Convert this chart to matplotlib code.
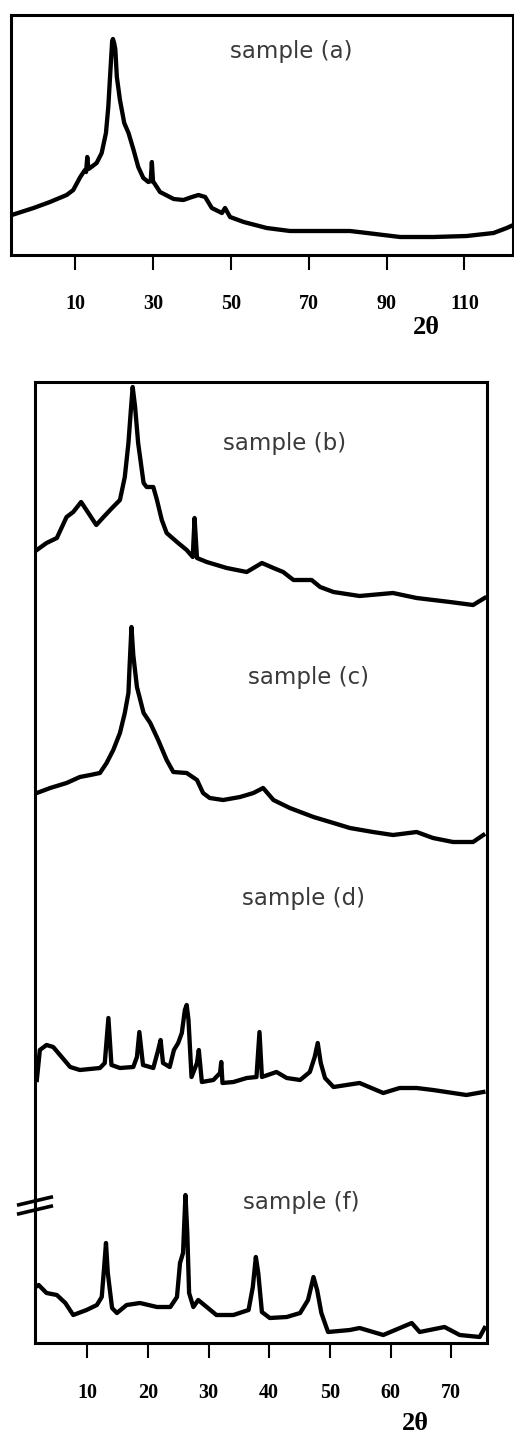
import numpy as np
import matplotlib.pyplot as plt
from matplotlib.lines import Line2D

# ---------------------------------------------------------------------------
# Data (2-theta in degrees, intensity a.u.)
# ---------------------------------------------------------------------------

# sample (a) -- upper panel
tt_a = [-6.3, -0.7, 3.5, 7.8, 9.5, 11.3, 12.5, 12.8, 13.1, 13.4, 13.8, 15.5,
        16.8, 17.9, 18.5, 19.1, 19.5, 19.7, 20.0, 20.3, 20.7, 21.5, 22.6,
        23.7, 25.0, 26.2, 27.5, 28.8, 29.4, 29.7, 30.0, 30.3, 31.8, 35.3,
        37.8, 40.0, 41.7, 43.4, 45.1, 47.7, 48.5, 49.8, 53.3, 59.2, 65.2,
        72.1, 80.6, 85.0, 89.2, 93.5, 102.1, 110.6, 117.5, 120.9, 122.6]
int_a = [40, 47, 53, 60, 65, 78, 85, 83, 98, 86, 87, 92,
         102, 122, 148, 188, 214, 216, 212, 206, 178, 155, 132,
         122, 105, 88, 77, 73, 74, 93, 73, 72, 63, 56,
         55, 58, 60, 58, 47, 42, 47, 38, 33, 27, 24,
         24, 24, 22, 20, 18, 18, 19, 22, 27, 30]

# sample (b)
tt_b = [1.7, 3.3, 5.0, 6.6, 7.7, 9.0, 10.2, 11.5, 12.7, 14.1, 15.4, 16.2,
        16.8, 17.2, 17.5, 17.9, 18.4, 19.3, 19.8, 20.9, 21.5, 22.3, 23.1,
        24.8, 26.4, 27.4, 27.7, 28.1, 29.7, 33.0, 36.3, 38.8, 40.7, 42.3,
        44.0, 47.0, 48.4, 50.6, 54.9, 60.4, 64.3, 69.8, 73.6, 75.5]
int_b = [60, 67, 72, 93, 98, 108, 97, 85, 93, 102, 110, 133,
         167, 200, 223, 203, 167, 127, 123, 123, 110, 90, 77,
         68, 60, 53, 92, 52, 48, 42, 38, 47, 42, 38,
         30, 30, 23, 18, 14, 17, 12, 8, 5, 12]

# sample (c)
tt_c = [1.7, 3.9, 6.6, 8.8, 10.5, 12.1, 13.2, 14.3, 15.4, 16.2, 16.8, 17.0,
        17.3, 17.6, 18.2, 19.3, 20.4, 21.7, 23.1, 24.2, 26.4, 28.1, 29.1,
        30.2, 32.4, 35.2, 37.4, 39.0, 40.7, 43.4, 47.3, 50.6, 53.3, 57.1,
        60.4, 64.3, 67.0, 70.3, 73.6, 75.3]
int_c = [57, 62, 67, 73, 75, 77, 87, 100, 117, 137, 157, 185,
         223, 195, 163, 137, 127, 110, 90, 78, 77, 70, 57,
         52, 50, 53, 57, 62, 50, 42, 33, 27, 22, 18,
         15, 18, 12, 8, 8, 15]

# sample (d)
tt_d = [1.7, 2.2, 3.3, 4.4, 5.8, 7.2, 8.8, 12.1, 12.9, 13.5, 14.0, 15.4,
        17.6, 18.2, 18.6, 19.2, 20.9, 21.7, 22.1, 22.5, 23.6, 24.3, 25.0,
        25.6, 26.1, 26.4, 26.7, 27.2, 28.1, 28.4, 28.9, 30.8, 31.9, 32.1,
        32.3, 34.1, 36.3, 37.9, 38.4, 38.8, 41.2, 42.9, 45.1, 46.7, 47.5,
        48.0, 48.5, 49.2, 50.6, 54.9, 58.8, 61.5, 64.3, 67.0, 72.5, 75.3]
int_d = [20, 50, 55, 53, 43, 33, 30, 32, 37, 82, 35, 32,
         33, 43, 68, 35, 32, 50, 60, 37, 33, 50, 57,
         67, 90, 95, 80, 23, 37, 50, 18, 20, 27, 38,
         17, 18, 22, 23, 68, 23, 28, 22, 20, 28, 43,
         57, 37, 22, 13, 17, 7, 12, 12, 10, 5, 8]

# sample (f)
tt_f = [1.5, 2.0, 3.3, 5.0, 6.4, 7.7, 9.9, 11.6, 12.4, 12.8, 13.1, 13.4,
        14.1, 14.9, 16.5, 18.7, 21.5, 23.7, 24.8, 25.3, 25.8, 26.2, 26.5,
        26.8, 27.5, 28.3, 29.7, 31.3, 34.1, 36.6, 37.3, 37.8, 38.2, 38.8,
        40.1, 42.9, 45.1, 46.4, 47.3, 47.9, 48.6, 49.7, 53.3, 54.9, 58.8,
        63.5, 64.8, 68.9, 71.4, 74.7, 75.5]
int_f = [58, 60, 52, 50, 42, 30, 35, 40, 48, 78, 102, 72,
         37, 32, 40, 42, 38, 38, 48, 82, 92, 150, 112,
         52, 38, 45, 38, 30, 30, 35, 58, 88, 72, 33,
         27, 28, 32, 45, 68, 55, 32, 13, 15, 17, 10,
         22, 13, 18, 10, 8, 17]

labels_top = ['sample (a)']
labels_bottom = ['sample (b)', 'sample (c)', 'sample (d)', 'sample (f)']

ticks_top = [10, 30, 50, 70, 90, 110]
ticks_bottom = [10, 20, 30, 40, 50, 60, 70]

# ---------------------------------------------------------------------------
# Layout (figure is 514 x 1438 px)
# ---------------------------------------------------------------------------

W, H = 514, 1438
fig = plt.figure(figsize=(W / 100, H / 100), dpi=100)


def px_axes(left, top, right, bottom):
    return fig.add_axes([left / W, 1 - bottom / H, (right - left) / W, (bottom - top) / H])


ax_a = px_axes(11, 15, 513, 255)
ax_b = px_axes(35, 382, 487, 1343)

offsets = [733, 493, 243, -2]      # vertical stacking in the lower panel
curve_kw = dict(color='black', lw=3.1, solid_joinstyle='round')
tick_font = dict(family=['Liberation Serif', 'DejaVu Serif'], weight='bold', size=14.5)
label_font = dict(family=['DejaVu Sans'], size=16.5, color='#3a3a3a')

ax_a.plot(tt_a, int_a, **curve_kw)
ax_a.set_xlim(-6.5, 122.5)
ax_a.set_ylim(0, 240)
ax_a.set_xticks(ticks_top)

series = [(tt_b, int_b), (tt_c, int_c), (tt_d, int_d), (tt_f, int_f)]
for (tt, yy), off in zip(series, offsets):
    ax_b.plot(tt, np.asarray(yy) + off, **curve_kw)
ax_b.set_xlim(1.4, 75.9)
ax_b.set_ylim(0, 961)
ax_b.set_xticks(ticks_bottom)

for ax, pad in ((ax_a, 17), (ax_b, 18)):
    ax.set_yticks([])
    for sp in ax.spines.values():
        sp.set_linewidth(2.2)
    ax.tick_params(axis='x', direction='out', length=11, width=1.5, pad=pad)
    for lab in ax.get_xticklabels():
        lab.set(**tick_font)

# sample labels
ax_a.text(0.558, 0.846, labels_top[0], transform=ax_a.transAxes,
          ha='center', va='center', **label_font)
label_pos = [(0.553, 0.9355), (0.604, 0.693), (0.593, 0.463), (0.588, 0.1467)]
for txt, (x, y) in zip(labels_bottom, label_pos):
    ax_b.text(x, y, txt, transform=ax_b.transAxes, ha='center', va='center', **label_font)

# 2-theta axis captions
theta_font = dict(family=['Liberation Serif', 'DejaVu Serif'], weight='bold', size=19)
fig.text(426 / W, 1 - 327 / H, '2θ', ha='center', va='center', **theta_font)
fig.text(415 / W, 1 - 1423 / H, '2θ', ha='center', va='center', **theta_font)

# axis-break mark on the lower panel's left spine
for yb in (0.1478, 0.1384):
    ax_b.add_line(Line2D([-0.036, 0.036], [yb - 0.004, yb + 0.004], transform=ax_b.transAxes,
                         color='black', lw=2.6, clip_on=False, zorder=5))

fig.savefig('out.png', dpi=100)
